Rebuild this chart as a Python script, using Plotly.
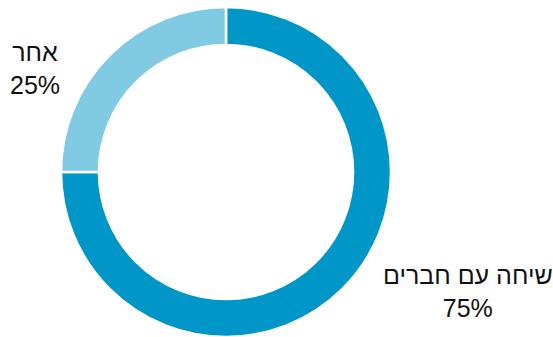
import plotly.graph_objects as go

labels = ["שיחה עם חברים", "אחר"]
values = [75, 25]
colors = ["#0096C8", "#80CAE3"]
label_pos = [(468, 291), (35, 69)]  # pixel centres of outside labels

W, H = 553, 337
top = 7
r = (H - top) / 2
cx = 226

fig = go.Figure(go.Pie(
    labels=labels,
    values=values,
    hole=0.77,
    sort=False,
    direction="clockwise",
    rotation=0,
    marker=dict(colors=colors, line=dict(color="white", width=2.5)),
    textinfo="none",
    hoverinfo="skip",
    domain=dict(x=[(cx - r) / W, (cx + r) / W], y=[0, 1 - top / H]),
))

for lab, val, (px, py) in zip(labels, values, label_pos):
    fig.add_annotation(
        text=f"{lab}<br>{val}%",
        x=px / W, y=1 - py / H, xref="paper", yref="paper",
        xanchor="center", yanchor="middle", showarrow=False, align="center",
        font=dict(family="Liberation Sans, Arial", size=25, color="#111111"),
    )

fig.update_layout(
    width=W, height=H, margin=dict(l=0, r=0, t=0, b=0),
    paper_bgcolor="white", plot_bgcolor="white", showlegend=False,
)
fig.write_html(
    "out.html",
    config={"displayModeBar": False},
    post_script="document.body.style.margin='0';document.body.style.overflow='hidden';",
)
